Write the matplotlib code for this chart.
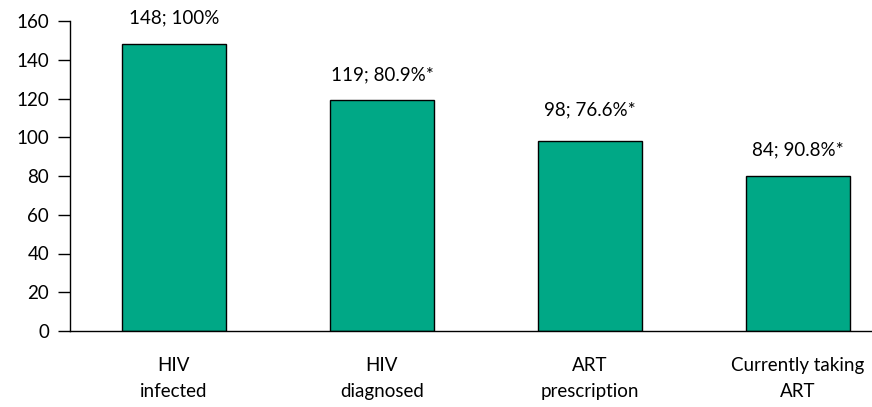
import matplotlib.pyplot as plt

plt.rcParams['font.family'] = ['Lato', 'DejaVu Sans']

stages = ["HIV\ninfected", "HIV\ndiagnosed", "ART\nprescription", "Currently taking\nART"]
heights = [148, 119, 98, 80]
labels = ["148; 100%", "119; 80.9%*", "98; 76.6%*", "84; 90.8%*"]
label_offsets = [26, 26, 31, 26]  # pixels above bar top

fig = plt.figure(figsize=(8.72, 4.07), dpi=100)
ax = fig.add_axes([70 / 872, 1 - 331 / 407, 1 - 70 / 872, (331 - 21) / 407])

x = range(len(stages))
bars = ax.bar(x, heights, width=0.5, color="#00a886", edgecolor="black", linewidth=1)

for b, lab, off in zip(bars, labels, label_offsets):
    ax.annotate(lab, (b.get_x() + b.get_width() / 2, b.get_height()),
                xytext=(0, off * 0.72), textcoords="offset points",
                ha="center", va="center", fontsize=13.5, annotation_clip=False)

ax.set_xlim(-0.5, 3.356)
ax.set_ylim(0, 160)
ax.set_yticks(range(0, 161, 20))
ax.set_xticks(list(x))
ax.set_xticklabels(stages, fontsize=13.5, linespacing=1.6)
ax.tick_params(axis="x", length=0, pad=19)
ax.tick_params(axis="y", length=9, width=1, labelsize=13.5, pad=6)

for s in ["top", "right"]:
    ax.spines[s].set_visible(False)
ax.spines["left"].set_linewidth(1)
ax.spines["bottom"].set_linewidth(1)

fig.savefig("out.png", dpi=100)
